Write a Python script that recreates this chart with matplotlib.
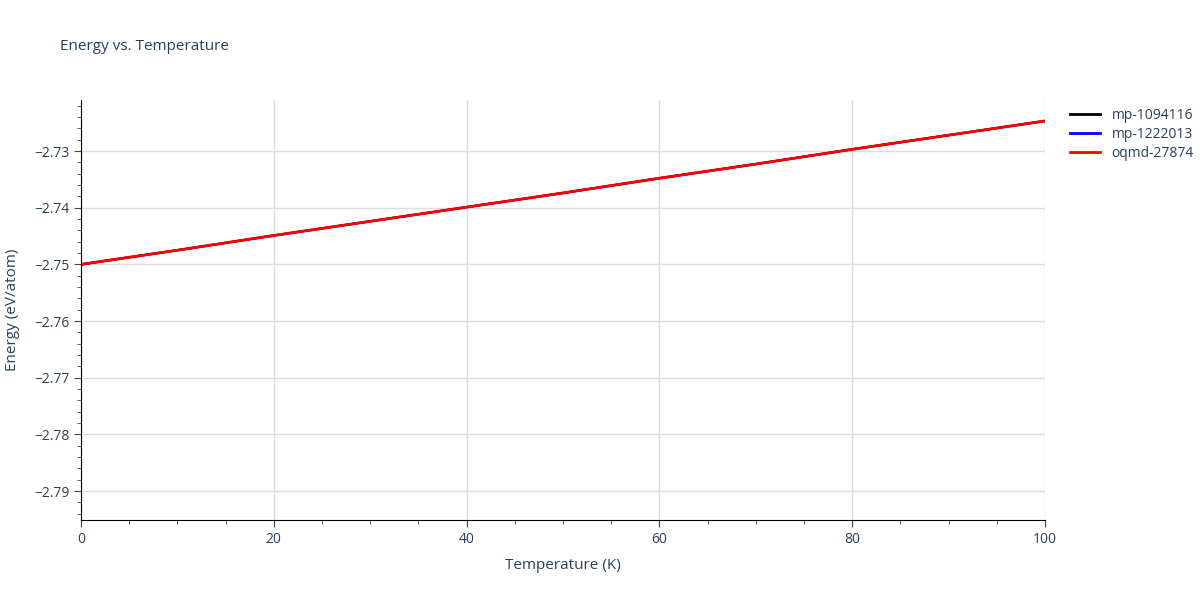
import numpy as np
import matplotlib
matplotlib.use("Agg")
import matplotlib.pyplot as plt
from matplotlib.ticker import MultipleLocator

plt.rcParams['font.family'] = ['Open Sans', 'DejaVu Sans']

# Dados
temperatura = [0, 10, 20, 30, 40, 50, 60, 70, 80, 90, 100]
energia = [-2.7500, -2.7475, -2.7449, -2.7424, -2.7399, -2.7374, -2.7348, -2.7323, -2.7297, -2.7272, -2.7247]
series = ["mp-1094116", "mp-1222013", "oqmd-27874"]
cores = ["black", "blue", "red"]
larguras = [1.6, 1.6, 2]

texto = "#2a3f5f"

fig = plt.figure(figsize=(12, 6), dpi=100)
ax = fig.add_axes([0.0675, 0.1333, 0.8033, 0.7])

for nome, cor, lw in zip(series, cores, larguras):
    ax.plot(temperatura, energia, color=cor, linewidth=lw, label=nome)

ax.set_xlim(0, 100)
ax.set_ylim(-2.7951, -2.7210)
ax.xaxis.set_major_locator(MultipleLocator(20))
ax.xaxis.set_minor_locator(MultipleLocator(5))
ax.yaxis.set_major_locator(MultipleLocator(0.01))
ax.yaxis.set_minor_locator(MultipleLocator(0.002))
ax.yaxis.set_major_formatter(plt.FuncFormatter(lambda v, p: f"\u2212{abs(v):.2f}"))

ax.grid(True, which="major", color="#dddddd", linewidth=1)
ax.set_axisbelow(True)
for lado in ["top", "right"]:
    ax.spines[lado].set_visible(False)
ax.spines["left"].set_color("black")
ax.spines["bottom"].set_color("black")

ax.tick_params(which="both", direction="out", colors="#444444", labelcolor=texto, labelsize=10)
ax.tick_params(which="major", length=5)
ax.tick_params(which="minor", length=3)

ax.set_xlabel("Temperature (K)", color=texto, fontsize=11, labelpad=8)
ax.set_ylabel("Energy (eV/atom)", color=texto, fontsize=11, labelpad=10)
fig.text(0.05, 0.922, "Energy vs. Temperature", color=texto, fontsize=11, va="center")

leg = ax.legend(loc="upper left", bbox_to_anchor=(1.02, 0.995), frameon=False,
                fontsize=10, labelcolor=texto, handlelength=2.2, borderaxespad=0, labelspacing=0.3)
for linha in leg.get_lines():
    linha.set_linewidth(2)

fig.savefig("out.png", dpi=100)
